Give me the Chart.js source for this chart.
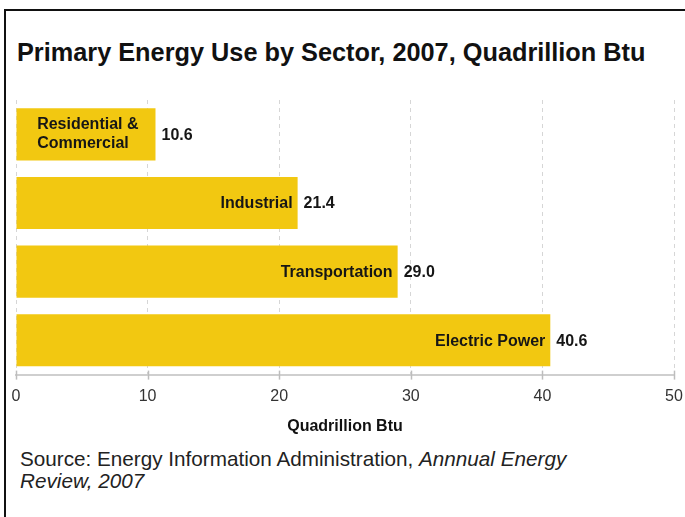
<!DOCTYPE html>
<html>
<head>
<meta charset="utf-8">
<script src="https://cdn.jsdelivr.net/npm/chart.js@4/dist/chart.umd.min.js"></script>
<style>
  html, body { margin: 0; padding: 0; background: #fff; }
  body { width: 685px; height: 517px; position: relative; overflow: hidden; font-family: "Liberation Sans", Arial, sans-serif; }
  .frame { position: absolute; left: 4px; top: 9px; width: 700px; height: 520px; border-top: 2px solid #111; border-left: 2px solid #111; }
  .title { position: absolute; left: 17px; top: 38px; font-size: 25.3px; font-weight: bold; color: #111; white-space: nowrap; }
  .src { position: absolute; left: 20px; top: 448px; font-size: 20.7px; line-height: 22px; color: #222; }
  .chart-box { position: absolute; left: 0; top: 88px; width: 685px; height: 352px; }
</style>
</head>
<body>
<div class="frame"></div>
<div class="title">Primary Energy Use by Sector, 2007, Quadrillion Btu</div>
<div class="chart-box"><canvas id="c"></canvas></div>
<div class="src">Source: Energy Information Administration, <i>Annnual Energy<br>Review, 2007</i></div>

<script>
// data
const sectors = [['Residential &', 'Commercial'], ['Industrial'], ['Transportation'], ['Electric Power']];
const useQBtu = [10.6, 21.4, 29.0, 40.6];
const xTicks = [0, 10, 20, 30, 40, 50];

const BAR_COLOR = '#f2c811';
const FONT = '"Liberation Sans", Arial, sans-serif';

// draws sector name inside each bar and value just past the end
const barLabels = {
  id: 'barLabels',
  afterDatasetsDraw(chart) {
    const ctx = chart.ctx;
    const meta = chart.getDatasetMeta(0);
    ctx.save();
    ctx.font = 'bold 16px ' + FONT;
    ctx.fillStyle = '#161616';
    ctx.textBaseline = 'middle';
    meta.data.forEach((bar, i) => {
      const lines = sectors[i];
      const lh = 19;
      if (lines.length > 1) {
        const w = Math.max(...lines.map(l => ctx.measureText(l).width));
        const x0 = bar.x - 17 - w;
        ctx.textAlign = 'left';
        lines.forEach((l, j) => {
          ctx.fillText(l, x0, bar.y + (j - (lines.length - 1) / 2) * lh);
        });
      } else {
        ctx.textAlign = 'right';
        ctx.fillText(lines[0], bar.x - 5, bar.y + 1);
      }
      ctx.textAlign = 'left';
      ctx.fillText(useQBtu[i].toFixed(1), bar.x + 6, bar.y + 1);
    });
    ctx.restore();
  },
  // short tick marks crossing the axis line
  afterDraw(chart) {
    const ctx = chart.ctx;
    const sx = chart.scales.x;
    const y = chart.chartArea.bottom;
    ctx.save();
    ctx.strokeStyle = '#bdbdbd';
    ctx.lineWidth = 1.5;
    xTicks.forEach(v => {
      const x = Math.round(sx.getPixelForValue(v)) + 0.5;
      ctx.beginPath();
      ctx.moveTo(x, y - 4);
      ctx.lineTo(x, y + 5);
      ctx.stroke();
    });
    ctx.restore();
  }
};

new Chart(document.getElementById('c'), {
  type: 'bar',
  data: {
    labels: sectors.map(s => s.join(' ')),
    datasets: [{
      data: useQBtu,
      backgroundColor: BAR_COLOR,
      borderWidth: 0,
      barPercentage: 0.76,
      categoryPercentage: 1
    }]
  },
  options: {
    indexAxis: 'y',
    responsive: true,
    maintainAspectRatio: false,
    animation: false,
    layout: { padding: { left: 16, right: 11, top: 12, bottom: 4 } },
    plugins: { legend: { display: false }, tooltip: { enabled: false } },
    scales: {
      y: { display: false },
      x: {
        min: 0, max: 50,
        afterBuildTicks: axis => { axis.ticks = xTicks.map(v => ({ value: v })); },
        grid: {
          color: '#d6d6d6',
          lineWidth: 1,
          drawTicks: true,
          tickLength: 12,
          tickColor: 'rgba(0,0,0,0)',
          tickBorderDash: []
        },
        border: { display: true, color: '#cfcfcf', width: 2, dash: [4, 4] },
        ticks: {
          padding: 0,
          color: '#333',
          font: { family: FONT, size: 16 }
        },
        title: {
          display: true,
          text: 'Quadrillion Btu',
          color: '#111',
          padding: { top: 11, bottom: 0 },
          font: { family: FONT, size: 16, weight: 'bold' }
        }
      }
    }
  },
  plugins: [barLabels]
});
</script>
</body>
</html>
